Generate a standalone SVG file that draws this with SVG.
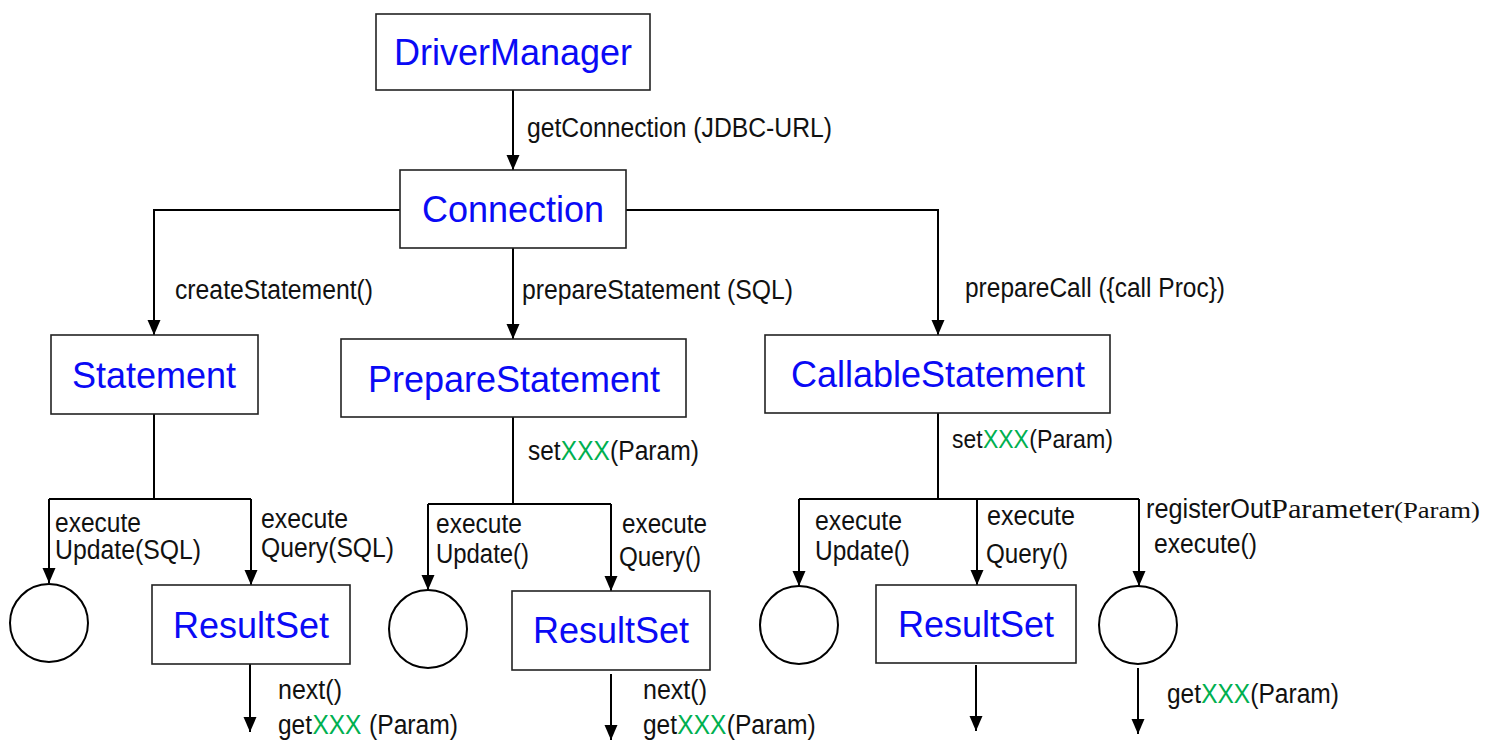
<svg xmlns="http://www.w3.org/2000/svg" width="1496" height="740" viewBox="0 0 1496 740">
<defs>
<marker id="ah" markerUnits="userSpaceOnUse" markerWidth="16" markerHeight="14" refX="15" refY="6.5" orient="auto">
<path d="M0,0 L15,6.5 L0,13 z" fill="#000"/>
</marker>
<style>
.box{fill:#fff;stroke:#222;stroke-width:1.6}
.circ{fill:#fff;stroke:#000;stroke-width:2}
.t{font-family:"Liberation Sans",Arial,sans-serif;font-size:36px;fill:#0a0af5;text-anchor:middle}
.l{font-family:"Liberation Sans",Arial,sans-serif;font-size:27px;fill:#111}
.g{fill:#00b050}
.s{font-family:"Liberation Serif","Times New Roman",serif;fill:#111}
.c{fill:none;stroke:#000;stroke-width:2}
.a{marker-end:url(#ah)}
</style>
</defs>

<g id="connectors">
<path class="c a" d="M513,90 V170"/>
<path class="c a" d="M400,210 H154 V335"/>
<path class="c a" d="M626,210 H938 V335"/>
<path class="c a" d="M513,248 V339"/>
<path class="c" d="M154,414 V499 M49,499 H251"/>
<path class="c a" d="M49,499 V583"/>
<path class="c a" d="M251,499 V585"/>
<path class="c" d="M513,417 V504 M428,504 H611"/>
<path class="c a" d="M428,504 V590"/>
<path class="c a" d="M611,504 V591"/>
<path class="c" d="M938,413 V499 M799,499 H1139"/>
<path class="c a" d="M799,499 V586"/>
<path class="c a" d="M977,499 V585"/>
<path class="c a" d="M1139,499 V586"/>
<path class="c a" d="M250,664 V732"/>
<path class="c a" d="M611,674 V740"/>
<path class="c a" d="M976,665 V731"/>
<path class="c a" d="M1138,668 V734"/>
</g>

<g id="labels">
<text class="l" x="527" y="137" textLength="305" lengthAdjust="spacingAndGlyphs">getConnection (JDBC-URL)</text>
<text class="l" x="175" y="299" textLength="198" lengthAdjust="spacingAndGlyphs">createStatement()</text>
<text class="l" x="522" y="299" textLength="271" lengthAdjust="spacingAndGlyphs">prepareStatement (SQL)</text>
<text class="l" x="965" y="297" textLength="260" lengthAdjust="spacingAndGlyphs">prepareCall ({call Proc})</text>

<text class="l" x="55" y="532" textLength="86" lengthAdjust="spacingAndGlyphs">execute</text>
<text class="l" x="55" y="559" textLength="146" lengthAdjust="spacingAndGlyphs">Update(SQL)</text>
<text class="l" x="261" y="528" textLength="87" lengthAdjust="spacingAndGlyphs">execute</text>
<text class="l" x="261" y="557" textLength="133" lengthAdjust="spacingAndGlyphs">Query(SQL)</text>
<text class="l" x="278" y="699" textLength="64" lengthAdjust="spacingAndGlyphs">next()</text>
<text class="l" x="278" y="734" textLength="34" lengthAdjust="spacingAndGlyphs">get</text>
<text class="l g" x="312.4" y="734" textLength="49" lengthAdjust="spacingAndGlyphs">XXX</text>
<text class="l" x="369" y="734" textLength="89" lengthAdjust="spacingAndGlyphs">(Param)</text>

<text class="l" x="528" y="460" textLength="32.5" lengthAdjust="spacingAndGlyphs">set</text>
<text class="l g" x="560.8" y="460" textLength="49" lengthAdjust="spacingAndGlyphs">XXX</text>
<text class="l" x="610" y="460" textLength="89" lengthAdjust="spacingAndGlyphs">(Param)</text>
<text class="l" x="436" y="533" textLength="86" lengthAdjust="spacingAndGlyphs">execute</text>
<text class="l" x="436" y="563" textLength="93" lengthAdjust="spacingAndGlyphs">Update()</text>
<text class="l" x="622" y="533" textLength="85" lengthAdjust="spacingAndGlyphs">execute</text>
<text class="l" x="619" y="566" textLength="82" lengthAdjust="spacingAndGlyphs">Query()</text>
<text class="l" x="643" y="699" textLength="64" lengthAdjust="spacingAndGlyphs">next()</text>
<text class="l" x="643" y="734" textLength="34" lengthAdjust="spacingAndGlyphs">get</text>
<text class="l g" x="677.3" y="734" textLength="49" lengthAdjust="spacingAndGlyphs">XXX</text>
<text class="l" x="726.7" y="734" textLength="89" lengthAdjust="spacingAndGlyphs">(Param)</text>

<text class="l" x="952" y="448" font-size="25" style="font-size:25px" textLength="30.5" lengthAdjust="spacingAndGlyphs">set</text>
<text class="l g" x="982.9" y="448" style="font-size:25px" textLength="46" lengthAdjust="spacingAndGlyphs">XXX</text>
<text class="l" x="1029.3" y="448" style="font-size:25px" textLength="83.7" lengthAdjust="spacingAndGlyphs">(Param)</text>
<text class="l" x="815" y="530" textLength="87" lengthAdjust="spacingAndGlyphs">execute</text>
<text class="l" x="815" y="560" textLength="95" lengthAdjust="spacingAndGlyphs">Update()</text>
<text class="l" x="987" y="525" textLength="88" lengthAdjust="spacingAndGlyphs">execute</text>
<text class="l" x="986" y="563" textLength="82" lengthAdjust="spacingAndGlyphs">Query()</text>
<text class="l" x="1146" y="518" textLength="125" lengthAdjust="spacingAndGlyphs">registerOut</text>
<text class="s" x="1271" y="518" font-size="28" textLength="123" lengthAdjust="spacingAndGlyphs">Parameter</text>
<text class="s" x="1394" y="518" font-size="23" textLength="86" lengthAdjust="spacingAndGlyphs">(Param)</text>
<text class="l" x="1154" y="553" textLength="103" lengthAdjust="spacingAndGlyphs">execute()</text>
<text class="l" x="1167" y="703" textLength="34" lengthAdjust="spacingAndGlyphs">get</text>
<text class="l g" x="1201.2" y="703" textLength="49" lengthAdjust="spacingAndGlyphs">XXX</text>
<text class="l" x="1250.3" y="703" textLength="88.7" lengthAdjust="spacingAndGlyphs">(Param)</text>
</g>

<g id="DriverManager"><rect class="box" x="376" y="14" width="274" height="76"/><text class="t" x="513" y="65">DriverManager</text></g>
<g id="Connection"><rect class="box" x="400" y="170" width="226" height="78"/><text class="t" x="513" y="222">Connection</text></g>
<g id="Statement"><rect class="box" x="51" y="335" width="207" height="79"/><text class="t" x="154" y="388">Statement</text></g>
<g id="PrepareStatement"><rect class="box" x="341" y="339" width="345" height="78"/><text class="t" x="514" y="392">PrepareStatement</text></g>
<g id="CallableStatement"><rect class="box" x="765" y="335" width="345" height="78"/><text class="t" x="938" y="387">CallableStatement</text></g>

<g id="Result1"><circle class="circ" cx="49" cy="623" r="39"/></g>
<g id="ResultSet1"><rect class="box" x="152" y="585" width="198" height="79"/><text class="t" x="251" y="638">ResultSet</text></g>
<g id="Result2"><circle class="circ" cx="428" cy="629" r="39"/></g>
<g id="ResultSet2"><rect class="box" x="512" y="591" width="198" height="79"/><text class="t" x="611" y="643">ResultSet</text></g>
<g id="Result3"><circle class="circ" cx="799" cy="625" r="39"/></g>
<g id="ResultSet3"><rect class="box" x="876" y="585" width="200" height="78"/><text class="t" x="976" y="637">ResultSet</text></g>
<g id="Result4"><circle class="circ" cx="1138" cy="625" r="39"/></g>
</svg>
